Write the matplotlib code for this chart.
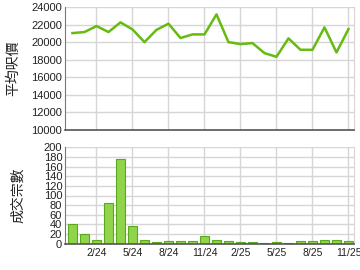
import matplotlib
matplotlib.use("Agg")
import matplotlib.pyplot as plt
import numpy as np

plt.rcParams['font.family'] = ['Liberation Sans', 'Noto Sans CJK TC', 'DejaVu Sans']

months = ["12/23", "1/24", "2/24", "3/24", "4/24", "5/24", "6/24", "7/24", "8/24", "9/24",
          "10/24", "11/24", "12/24", "1/25", "2/25", "3/25", "4/25", "5/25", "6/25", "7/25",
          "8/25", "9/25", "10/25", "11/25"]
avg_price = [21030, 21150, 21830, 21150, 22250, 21450, 20000, 21400, 22100, 20470,
             20880, 20880, 23160, 20000, 19780, 19890, 18750, 18330, 20430, 19130,
             19130, 21680, 18830, 21490]
volume = [40, 20, 8, 84, 176, 37, 8, 4, 5, 5,
          5, 16, 8, 6, 4, 4, 2, 3, 2, 5,
          6, 7, 7, 5]
tick_labels = ["2/24", "5/24", "8/24", "11/24", "2/25", "5/25", "8/25", "11/25"]

x = np.arange(len(months))
tick_pos = [months.index(m) for m in tick_labels]

fig = plt.figure(figsize=(3.6, 2.7), dpi=100)
ax1 = fig.add_axes([65/360, 1-130/270, 289/360, 123/270])
ax2 = fig.add_axes([65/360, 1-243.7/270, 289/360, 96.4/270])

grid_c = '#d6d6d6'
for ax in (ax1, ax2):
    ax.set_xlim(-0.625, 23.46)
    ax.set_xticks(tick_pos)
    ax.grid(True, color=grid_c, linewidth=1)
    ax.set_axisbelow(True)
    ax.spines['left'].set_color('#777777')
    ax.spines['bottom'].set_color('#555555')
    ax.spines['bottom'].set_linewidth(1.2)
    ax.spines['top'].set_visible(False)
    ax.spines['right'].set_color(grid_c)
    ax.tick_params(axis='y', length=0, labelsize=8, colors='#222222', pad=2)
    ax.tick_params(axis='x', length=0, labelsize=7.5, colors='#222222', pad=3)

ax1.plot(x, avg_price, color='#66bb11', linewidth=1.8)
ax1.set_ylim(10000, 24000)
ax1.set_yticks(np.arange(10000, 24001, 2000))
ax1.set_xticklabels([])
ax1.set_ylabel('平均呎價', fontsize=10, labelpad=8, color='#222222')

ax2.bar(x, volume, width=0.68, color='#8fd44a', edgecolor='#5aa81c', linewidth=0.8)
ax2.set_ylim(0, 200)
ax2.set_yticks(np.arange(0, 201, 20))
ax2.set_xticklabels(tick_labels)
ax2.set_ylabel('成交宗數', fontsize=10, labelpad=13, color='#222222')

fig.savefig('out.png', dpi=100)
